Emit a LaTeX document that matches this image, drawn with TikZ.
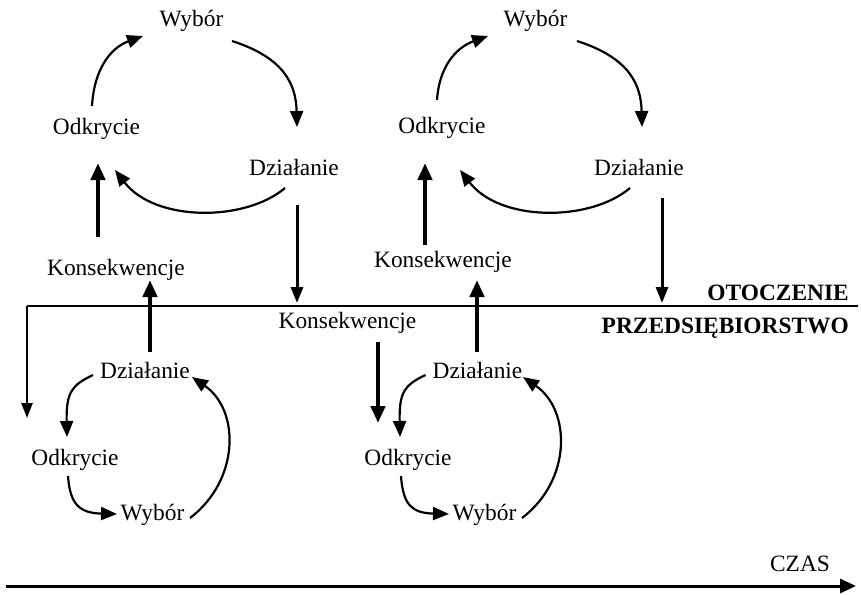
\documentclass[tikz,border=0pt]{standalone}
\usepackage{fontspec}
\setmainfont{Liberation Serif}
\usetikzlibrary{arrows.meta}
\begin{document}
\begin{tikzpicture}[x=1pt,y=-1pt,
  lbl/.style={inner sep=0pt, anchor=base, font=\fontsize{23.4}{28}\selectfont},
  boldlbl/.style={inner sep=0pt, anchor=base east, font=\fontsize{23.4}{28}\selectfont\bfseries},
  thinarr/.style={line width=2.2pt, -{Triangle[length=16pt,width=13pt]}},
  thickarr/.style={line width=4.5pt, -{Triangle[length=17pt,width=14pt]}},
  midarr/.style={line width=3pt, -{Triangle[length=16pt,width=12pt]}},
  bound/.style={line width=2.4pt},
]
\useasboundingbox (0,0) rectangle (861,594);

% top-left cycle
\node[lbl] (w1) at (191.5,27) {Wybór};
\node[lbl] (o1) at (96.5,134) {Odkrycie};
\node[lbl] (d1) at (294,175) {Działanie};
\node[lbl] (k1) at (116,275) {Konsekwencje};
% top-right cycle
\node[lbl] (w2) at (535.5,27) {Wybór};
\node[lbl] (o2) at (442,133) {Odkrycie};
\node[lbl] (d2) at (639,175) {Działanie};
\node[lbl] (k2) at (443,267) {Konsekwencje};
% middle
\node[lbl] (k3) at (347.5,328) {Konsekwencje};
% bottom-left cycle
\node[lbl] (d3) at (145,378) {Działanie};
\node[lbl] (o3) at (75,465) {Odkrycie};
\node[lbl] (w3) at (152.5,520) {Wybór};
% bottom-right cycle
\node[lbl] (d4) at (477.5,378) {Działanie};
\node[lbl] (o4) at (408,465) {Odkrycie};
\node[lbl] (w4) at (484.5,520) {Wybór};
% region labels
\node[boldlbl] (ot) at (849,300) {OTOCZENIE};
\node[boldlbl] (pr) at (849,333) {PRZEDSIĘBIORSTWO};
\node[lbl] (cz) at (800,571) {CZAS};

% boundary coordinates
\coordinate (L) at (858,306);
\coordinate (Lc) at (27,306);
\coordinate (Lt) at (27,418);
\coordinate (b1) at (297,303);
\coordinate (b2) at (662,303);
\coordinate (t0) at (6,586);
\coordinate (t1) at (856,586);

% top-left connectors
\draw[thinarr] ([shift={(-4.5,-28)}]o1.base) .. controls +(2,-36) and +(-33,12) .. ([shift={(-48.5,9)}]w1.base);
\draw[thinarr] ([shift={(40.5,14)}]w1.base) .. controls +(53,17) and +(-1,-42) .. ([shift={(3,-48)}]d1.base);
\draw[thinarr] ([shift={(-9,13)}]d1.base) .. controls +(-40,34) and +(40,52) .. ([shift={(18.5,36)}]o1.base);
\draw[thickarr] ([shift={(-18,-38)}]k1.base) -- ([shift={(1.5,29)}]o1.base);
\draw[midarr] ([shift={(3,30)}]d1.base) -- (b1);

% top-right connectors
\draw[thinarr] ([shift={(-5,-33)}]o2.base) .. controls +(2,-32) and +(-33,12) .. ([shift={(-47.5,9)}]w2.base);
\draw[thinarr] ([shift={(41.5,14)}]w2.base) .. controls +(53,17) and +(-1,-42) .. ([shift={(3,-48)}]d2.base);
\draw[thinarr] ([shift={(-9,13)}]d2.base) .. controls +(-40,34) and +(40,52) .. ([shift={(18,37)}]o2.base);
\draw[thickarr] ([shift={(-18,-22)}]k2.base) -- ([shift={(-17,30)}]o2.base);
\draw[midarr] ([shift={(23,23)}]d2.base) -- (b2);

% middle connectors
\draw[thickarr] ([shift={(5,-26)}]d3.base) -- ([shift={(34,5)}]k1.base);
\draw[thickarr] ([shift={(-0.5,-26)}]d4.base) -- ([shift={(34,13)}]k2.base);
\draw[thickarr] ([shift={(30.5,14)}]k3.base) -- ([shift={(-30,-42)}]o4.base);
\draw[bound] (L) -- (Lc);
\draw[bound,-{Triangle[length=15pt,width=11pt]}] (Lc) -- (Lt);

% bottom-left connectors
\draw[thinarr] ([shift={(-52,-3)}]d3.base) .. controls +(-21,10) and +(-1,-45) .. ([shift={(-8,-28)}]o3.base);
\draw[thinarr] ([shift={(-7,11)}]o3.base) .. controls +(2,29) and +(-37,-1) .. ([shift={(-35.5,-6)}]w3.base);
\draw[thinarr] ([shift={(37.5,-2)}]w3.base) .. controls +(50,-38) and +(48,33) .. ([shift={(47,-1)}]d3.base);

% bottom-right connectors
\draw[thinarr] ([shift={(-52,-3)}]d4.base) .. controls +(-21,10) and +(-1,-45) .. ([shift={(-8,-28)}]o4.base);
\draw[thinarr] ([shift={(-7,11)}]o4.base) .. controls +(2,29) and +(-37,-1) .. ([shift={(-35.5,-6)}]w4.base);
\draw[thinarr] ([shift={(37.5,-2)}]w4.base) .. controls +(50,-38) and +(48,33) .. ([shift={(45.5,-1)}]d4.base);

% time axis
\draw[line width=3pt,-{Triangle[length=16pt,width=14pt]}] (t0) -- (t1);
\end{tikzpicture}
\end{document}
